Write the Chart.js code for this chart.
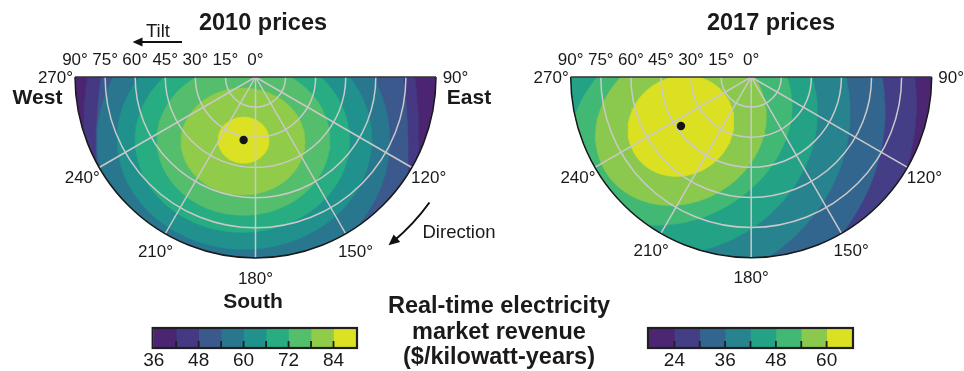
<!DOCTYPE html>
<html>
<head>
<meta charset="utf-8">
<script src="https://cdn.jsdelivr.net/npm/chart.js@4.4.1/dist/chart.umd.min.js"></script>
<style>
  body { margin: 0; background: #fff; }
  #page { position: relative; width: 964px; height: 371px; overflow: hidden;
          font-family: "Liberation Sans", Arial, sans-serif; color: #1a1a1a; }
  #page canvas { position: absolute; }
  .txt { position: absolute; white-space: nowrap; line-height: 1; transform: translate(-50%, -50%); }
  .b { font-weight: bold; }
</style>
</head>
<body>
<div id="page">
  <canvas id="polar2010" width="482" height="320" style="left:0;top:0"></canvas>
  <canvas id="polar2017" width="482" height="320" style="left:482px;top:0"></canvas>
  <canvas id="bar2010" width="230" height="50" style="left:140px;top:322px"></canvas>
  <canvas id="bar2017" width="230" height="50" style="left:636px;top:322px"></canvas>

  <div class="txt b" style="left:263px;top:22.5px;font-size:23.5px">2010 prices</div>
  <div class="txt b" style="left:771px;top:22.5px;font-size:23.5px">2017 prices</div>
  <div class="txt" style="left:158px;top:30.5px;font-size:18.5px">Tilt</div>
  <div class="txt b" style="left:37.5px;top:96px;font-size:21px">West</div>
  <div class="txt b" style="left:469px;top:96px;font-size:21px">East</div>
  <div class="txt b" style="left:253px;top:300px;font-size:21px">South</div>
  <div class="txt" style="left:459px;top:232px;font-size:18.5px">Direction</div>
  <div class="txt b" style="left:499px;top:331px;font-size:23.5px;line-height:25.5px;text-align:center">Real-time electricity<br>market revenue<br>($/kilowatt-years)</div>
</div>

<script>
// axis ticks shared by both polar panels
const tiltTicks = [90, 75, 60, 45, 30, 15, 0];
const tiltRings = [15, 30, 45, 60, 75];
const directionTicks = [90, 120, 150, 180, 210, 240, 270];
const directionSpokes = [120, 150, 180, 210, 240];

// 2010 prices: band edges ($/kW-yr) and colours
const bands2010 = [36, 42, 48, 54, 60, 66, 72, 78, 84, 90];
const colors2010 = ['#4b2571', '#453983', '#3c598d', '#29778e', '#20918c', '#27ad81', '#55be6d', '#91cb4a', '#dce123'];
const cbTicks2010 = [36, 48, 60, 72, 84];
// contour lines (lower bound of each band), as ellipses in tilt-degree plane coordinates
const contourLevels2010 = [42, 48, 54, 60, 66, 72, 78, 84];
const contourCx2010 = [-2.2, -1.7, -6.0, -5.5, -6.5, -6.0, -6.2, -5.9];
const contourCy2010 = [-31.4, -36.3, -31.4, -30.9, -31.4, -31.4, -32.1, -31.4];
const contourRx2010 = [83.6, 77.8, 73.0, 63.5, 53.5, 43.1, 30.9, 12.7];
const contourRy2010 = [149, 144, 68.0, 54.8, 45.9, 37.4, 26.6, 11.5];
const contourRot2010 = [0, 0, 0, 0, 0, 0, 0, 0];
const optimum2010 = { tilt: 31.9, direction: 190.7 };

// 2017 prices
const bands2017 = [18, 24, 30, 36, 42, 48, 54, 60, 66];
const colors2017 = ['#4c2672', '#433e86', '#32668e', '#27838e', '#23a286', '#41b874', '#8bc94e', '#dbe023'];
const cbTicks2017 = [24, 36, 48, 60];
const contourLevels2017 = [24, 30, 36, 42, 48, 54, 60];
const contourCx2017 = [-35.0, -35.0, -35.0, -35.0, -35.0, -35.0, -35.0];
const contourCy2017 = [-24.4, -24.4, -24.4, -24.4, -24.4, -24.4, -24.4];
const contourRx2017 = [120.5, 104, 86.3, 70, 58.2, 44, 27];
const contourRy2017 = [107.5, 95, 78.5, 62, 46.1, 38, 24.5];
const contourRot2017 = [30, 30, 30, 30, 30, 30, 30];
const optimum2017 = { tilt: 42.7, direction: 235.1 };

const FONT = '"Liberation Sans", Arial, sans-serif';
const DEG = Math.PI / 180;

function ellipsePoints(cx, cy, a, b, rot) {
  const pts = [];
  const t = rot * DEG;
  for (let k = 0; k <= 144; k++) {
    const p = 2 * Math.PI * k / 144;
    const u = a * Math.cos(p), v = b * Math.sin(p);
    pts.push({ x: cx + u * Math.cos(t) - v * Math.sin(t), y: cy + u * Math.sin(t) + v * Math.cos(t) });
  }
  return pts;
}

function frame(chart) {
  const xs = chart.scales.x, ys = chart.scales.y;
  const cx = xs.getPixelForValue(0), cy = ys.getPixelForValue(0);
  return { xs, ys, cx, cy, rx: xs.getPixelForValue(90) - cx, ry: ys.getPixelForValue(-90) - cy };
}

function toPixel(g, tilt, dir) {
  return { x: g.xs.getPixelForValue(tilt * Math.sin(dir * DEG)), y: g.ys.getPixelForValue(tilt * Math.cos(dir * DEG)) };
}

function halfDisk(ctx, g) {
  ctx.beginPath();
  ctx.ellipse(g.cx, g.cy, g.rx, g.ry, 0, 0, Math.PI);
  ctx.closePath();
}

function drawGrid(chart) {
  const g = frame(chart), ctx = chart.ctx;
  ctx.save();
  ctx.strokeStyle = '#c9c9c9';
  ctx.lineWidth = 1.5;
  tiltRings.forEach(t => {
    ctx.beginPath();
    ctx.ellipse(g.cx, g.cy, g.rx * t / 90, g.ry * t / 90, 0, 0, Math.PI);
    ctx.stroke();
  });
  directionSpokes.forEach(d => {
    const p = toPixel(g, 90, d);
    ctx.beginPath();
    ctx.moveTo(g.cx, g.cy);
    ctx.lineTo(p.x, p.y);
    ctx.stroke();
  });
  ctx.restore();
}

function drawArrows(ctx, g) {
  ctx.save();
  ctx.strokeStyle = '#111';
  ctx.fillStyle = '#111';
  ctx.lineWidth = 2;
  // tilt arrow above the tilt ticks
  const ay = g.cy - 35;
  ctx.beginPath();
  ctx.moveTo(g.cx - 73.5, ay);
  ctx.lineTo(g.cx - 115, ay);
  ctx.stroke();
  ctx.beginPath();
  ctx.moveTo(g.cx - 123, ay);
  ctx.lineTo(g.cx - 113, ay - 4.5);
  ctx.lineTo(g.cx - 113, ay + 4.5);
  ctx.closePath();
  ctx.fill();
  // direction arrow, an arc just outside the rim
  const r = g.rx + 34, a0 = 0.625, a1 = 0.902, head = 11 / r;
  ctx.beginPath();
  ctx.arc(g.cx, g.cy, r, a0, a1 - head * 0.6);
  ctx.stroke();
  const tip = { x: g.cx + r * Math.cos(a1), y: g.cy + r * Math.sin(a1) };
  const base = { x: g.cx + r * Math.cos(a1 - head), y: g.cy + r * Math.sin(a1 - head) };
  const n = { x: Math.cos(a1 - head), y: Math.sin(a1 - head) };
  ctx.beginPath();
  ctx.moveTo(tip.x, tip.y);
  ctx.lineTo(base.x + n.x * 5, base.y + n.y * 5);
  ctx.lineTo(base.x - n.x * 5, base.y - n.y * 5);
  ctx.closePath();
  ctx.fill();
  ctx.restore();
}

const polarDecor = {
  id: 'polarDecor',
  beforeDatasetsDraw(chart, args, opts) {
    const g = frame(chart), ctx = chart.ctx;
    ctx.save();
    halfDisk(ctx, g);
    ctx.fillStyle = opts.baseColor;
    ctx.fill();
    ctx.clip();
  },
  beforeDatasetDraw(chart, args) {
    if (chart.data.datasets[args.index].label === 'Optimum') drawGrid(chart);
  },
  afterDatasetsDraw(chart, args, opts) {
    const g = frame(chart), ctx = chart.ctx;
    ctx.restore();
    ctx.save();
    // rim and top edge
    ctx.lineWidth = 1.5;
    ctx.strokeStyle = '#1a1a1a';
    ctx.beginPath();
    ctx.ellipse(g.cx, g.cy, g.rx, g.ry, 0, 0, Math.PI);
    ctx.stroke();
    ctx.strokeStyle = '#333';
    ctx.beginPath();
    ctx.moveTo(g.cx - g.rx, g.cy);
    ctx.lineTo(g.cx + g.rx, g.cy);
    ctx.stroke();
    // tick labels
    ctx.fillStyle = '#1a1a1a';
    ctx.font = '17px ' + FONT;
    ctx.textAlign = 'center';
    ctx.textBaseline = 'alphabetic';
    tiltTicks.forEach(t => {
      ctx.fillText(t + '°', g.xs.getPixelForValue(-t), g.cy - 12);
    });
    directionTicks.forEach(d => {
      const p = toPixel(g, 90, d);
      const x = p.x + 19.5 * Math.sin(d * DEG);
      const y = p.y - 19.5 * Math.cos(d * DEG);
      ctx.fillText(d + '°', x, y + 6);
    });
    ctx.restore();
    if (opts.arrows) drawArrows(ctx, g);
  }
};

function polarChart(id, c) {
  const datasets = c.levels.map((lv, i) => ({
    label: String(lv),
    data: ellipsePoints(c.cx[i], c.cy[i], c.rx[i], c.ry[i], c.rot[i]),
    showLine: true,
    fill: 'shape',
    backgroundColor: c.colors[i + 1],
    borderColor: c.colors[i + 1],
    borderWidth: 0.5,
    pointRadius: 0,
    order: c.levels.length - i
  }));
  const d = c.optimum.direction * DEG;
  datasets.push({
    label: 'Optimum',
    data: [{ x: c.optimum.tilt * Math.sin(d), y: c.optimum.tilt * Math.cos(d) }],
    pointRadius: 4.2,
    backgroundColor: '#151515',
    borderWidth: 0,
    order: -1
  });
  return new Chart(document.getElementById(id), {
    type: 'scatter',
    data: { datasets },
    options: {
      responsive: false,
      animation: false,
      events: [],
      layout: { padding: c.padding },
      scales: {
        x: { type: 'linear', min: -90, max: 90, display: false },
        y: { type: 'linear', min: -90, max: 0, display: false }
      },
      plugins: {
        legend: { display: false },
        tooltip: { enabled: false },
        polarDecor: { baseColor: c.colors[0], arrows: c.arrows }
      }
    },
    plugins: [polarDecor]
  });
}

const colorbarFrame = {
  id: 'colorbarFrame',
  afterDatasetsDraw(chart, args, opts) {
    const { left, right, top, bottom } = chart.chartArea;
    const ctx = chart.ctx;
    ctx.save();
    ctx.strokeStyle = '#1f1f1f';
    ctx.lineWidth = 2.2;
    ctx.strokeRect(left - 1, top - 1, right - left + 2, bottom - top + 2);
    ctx.lineWidth = 1.8;
    opts.marks.forEach(v => {
      const x = chart.scales.x.getPixelForValue(v);
      ctx.beginPath();
      ctx.moveTo(x, bottom);
      ctx.lineTo(x, bottom - 6);
      ctx.stroke();
    });
    ctx.restore();
  }
};

function colorbar(id, edges, colors, ticks, padding) {
  const datasets = colors.map((col, i) => ({
    data: [[edges[i], edges[i + 1]]],
    backgroundColor: col,
    borderWidth: 0,
    grouped: false,
    barPercentage: 1,
    categoryPercentage: 1
  }));
  return new Chart(document.getElementById(id), {
    type: 'bar',
    data: { labels: ['revenue'], datasets },
    options: {
      indexAxis: 'y',
      responsive: false,
      animation: false,
      events: [],
      layout: { padding },
      scales: {
        x: {
          type: 'linear', min: edges[0], max: edges[edges.length - 1],
          grid: { display: false, drawTicks: false }, border: { display: false },
          afterBuildTicks: s => { s.ticks = ticks.map(v => ({ value: v })); },
          afterFit: s => { s.height = 25; },
          ticks: { autoSkip: false, maxRotation: 0, padding: 2, color: '#1a1a1a', font: { size: 19, family: FONT } }
        },
        y: { display: false }
      },
      plugins: {
        legend: { display: false },
        tooltip: { enabled: false },
        colorbarFrame: { marks: edges.slice(1, -1) }
      }
    },
    plugins: [colorbarFrame]
  });
}

polarChart('polar2010', {
  levels: contourLevels2010, cx: contourCx2010, cy: contourCy2010,
  rx: contourRx2010, ry: contourRy2010, rot: contourRot2010,
  colors: colors2010, optimum: optimum2010, arrows: true,
  padding: { left: 75, right: 46, top: 77, bottom: 62 }
});
polarChart('polar2017', {
  levels: contourLevels2017, cx: contourCx2017, cy: contourCy2017,
  rx: contourRx2017, ry: contourRy2017, rot: contourRot2017,
  colors: colors2017, optimum: optimum2017, arrows: false,
  padding: { left: 88.7, right: 32.3, top: 77, bottom: 62.3 }
});
colorbar('bar2010', bands2010, colors2010, cbTicks2010, { left: 13.7, right: 14, top: 7 });
colorbar('bar2017', bands2017, colors2017, cbTicks2017, { left: 13, right: 14, top: 7 });
</script>
</body>
</html>
